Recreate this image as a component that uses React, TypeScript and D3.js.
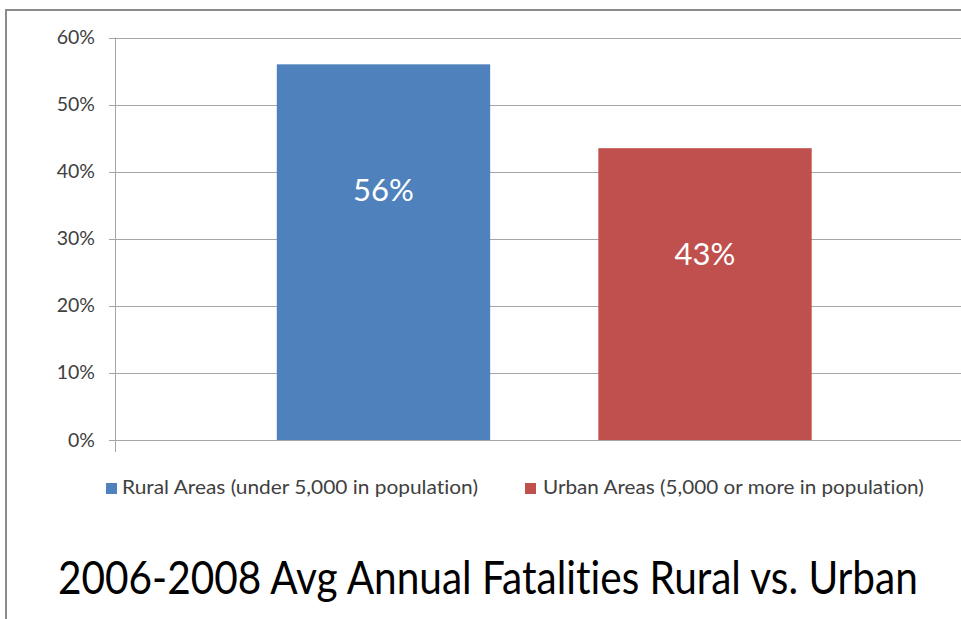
import React, { useEffect, useRef, useState } from "react";
import * as d3 from "d3";

const seriesNames = [
  "Rural Areas (under 5,000 in population)",
  "Urban Areas (5,000 or more in population)",
];
const seriesValues = [0.56, 0.435];
const seriesLabels = ["56%", "43%"];
const labelAnchors = [0.372, 0.277];
const seriesColors = ["#4F81BD", "#C0504D"];
const yTicks = [0, 0.1, 0.2, 0.3, 0.4, 0.5, 0.6];
const title = "2006-2008 Avg Annual Fatalities Rural vs. Urban";

const W = 961;
const H = 619;
const FONT = "Lato, 'Open Sans', sans-serif";
const noLig = { fontVariantLigatures: "none" } as React.CSSProperties;

function FitText(props: {
  x: number;
  y: number;
  width: number;
  size: number;
  fill: string;
  children: string;
}) {
  const ref = useRef<SVGTextElement>(null);
  const [sx, setSx] = useState(1);
  useEffect(() => {
    if (ref.current) {
      const len = ref.current.getComputedTextLength();
      if (len > 0) setSx(props.width / len);
    }
  }, [props.width, props.children]);
  return (
    <text
      ref={ref}
      transform={`translate(${props.x},${props.y}) scale(${sx},1)`}
      fontFamily={FONT}
      fontSize={props.size}
      fill={props.fill}
      style={noLig}
    >
      {props.children}
    </text>
  );
}

export default function App() {
  const plotL = 115;
  const plotR = 973.5;
  const plotT = 37.5;
  const plotB = 440;

  const y = d3.scaleLinear().domain([0, 0.6]).range([plotB, plotT]);
  const x = d3
    .scaleBand<string>()
    .domain(seriesNames)
    .range([plotL + 161.8, plotR - 161.8])
    .paddingInner(108 / 213 / (1 + 108 / 213))
    .paddingOuter(0);

  const fmt = d3.format(".0%");

  return (
    <div style={{ position: "fixed", left: 0, top: 0, width: W, height: H, background: "#fff" }}>
      <svg width={W} height={H} style={{ display: "block" }}>
        <rect x={6} y={10} width={W + 20} height={H + 20} fill="#fff" stroke="#8c8c8c" strokeWidth={2} />
        {yTicks.map((t) => (
          <g key={t}>
            <line x1={plotL - 6} x2={plotR} y1={Math.round(y(t)) + 0.5} y2={Math.round(y(t)) + 0.5} stroke="#a6a6a6" strokeWidth={1} />
            <text
              x={95}
              y={y(t) + 6.5}
              textAnchor="end"
              fontFamily={FONT}
              fontSize={19.5}
              fill="#404040"
              style={noLig}
            >
              {fmt(t)}
            </text>
          </g>
        ))}
        <line x1={plotL + 0.5} x2={plotL + 0.5} y1={plotT} y2={plotB + 12} stroke="#a6a6a6" strokeWidth={1} />
        {seriesNames.map((s, i) => (
          <g key={s}>
            <rect
              x={x(s)}
              y={y(seriesValues[i])}
              width={x.bandwidth()}
              height={y(0) - y(seriesValues[i])}
              fill={seriesColors[i]}
            />
            <text
              x={(x(s) as number) + x.bandwidth() / 2}
              y={y(labelAnchors[i]) + 11}
              textAnchor="middle"
              fontFamily={FONT}
              fontSize={31}
              fill="#fff"
              style={noLig}
            >
              {seriesLabels[i]}
            </text>
          </g>
        ))}
        {/* legend */}
        {[
          { sx: 106, tx: 122, len: 356 },
          { sx: 525, tx: 543, len: 381 },
        ].map((p, i) => (
          <g key={i}>
            <rect x={p.sx} y={483} width={11} height={11} fill={seriesColors[i]} />
            <FitText x={p.tx} y={494} width={p.len} size={20} fill="#404040">
              {seriesNames[i]}
            </FitText>
          </g>
        ))}
        <FitText x={58} y={594} width={860} size={46} fill="#000">
          {title}
        </FitText>
      </svg>
    </div>
  );
}
